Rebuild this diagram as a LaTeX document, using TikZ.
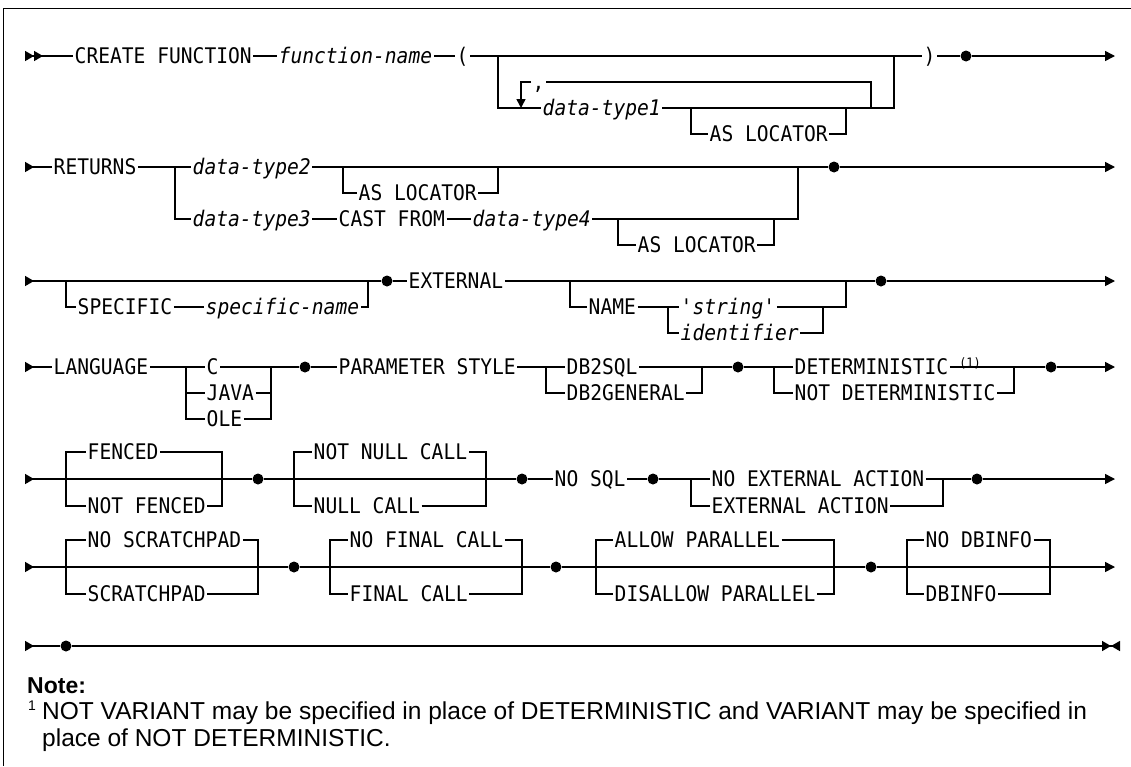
\documentclass[tikz,border=0pt]{standalone}
\usepackage{fontspec}
\setmainfont{Liberation Sans}
\setmonofont[FakeStretch=0.912]{DejaVu Sans Mono}
\usetikzlibrary{arrows.meta}
\tikzset{
    rail/.style={line width=1.5pt},
    railin/.style={rail, arrows={Triangle[reversed,length=9pt,width=10pt]-}},
    railout/.style={rail, arrows={-Triangle[length=10pt,width=10pt]}},
    kw/.style={anchor=west, font=\ttfamily\fontsize{21.5}{24}\selectfont, inner xsep=1.5pt, inner ysep=0pt, text height=15.7pt, text depth=0pt},
    var/.style={kw, font=\ttfamily\itshape\fontsize{21.5}{24}\selectfont},
    dot/.style={circle, fill, inner sep=0pt, minimum size=11pt}
}

\begin{document}
\begin{tikzpicture}[x=1pt, y=-1pt]
    \useasboundingbox (0,0) rectangle (1131,766);
    % frame
    \draw[line width=1pt] (1131,8) -- (3,8) -- (3,766);

    % CREATE FUNCTION
    \coordinate (r1s) at (25,56);
    \node (create) [kw] at (73,56) {CREATE FUNCTION};
    \node (fname) [var] at (277,56) {function-name};
    \node (lpar) [kw] at (455,56) {(};
    \coordinate (r1a) at (498,56);
    \coordinate (r1b) at (894,56);
    \node (rpar) [kw] at (922,56) {)};
    \node (r1d) [dot] at (966,56) {};
    \coordinate (r1e) at (1115,56);
    \coordinate (lp1) at (521,82);
    \coordinate (lp2) at (871,82);
    \coordinate (lp0) at (521,108);
    \node (comma) [kw] at (531,82) {,};
    \node (dt1) [var] at (541,108) {data-type1};
    \coordinate (r1c) at (691,108);
    \node (loc1) [kw] at (708,134) {AS LOCATOR};
    \coordinate (r1f) at (846,108);
    \draw[rail, arrows={Triangle[reversed,length=9pt,width=10pt] Triangle[reversed,length=9pt,width=10pt]-}] (r1s) -- (create);
    \draw[railout] (create) -- (fname) -- (lpar) -- (rpar) -- (r1d) -- (r1e);
    \draw[rail] (r1a) |- (dt1) -| (r1b);
    \draw[rail] (r1c) |- (loc1) -| (r1f);
    \draw[rail] (lp2 |- dt1) -- (lp2) -- (comma);
    \draw[rail, -{Triangle[length=9pt,width=9pt]}] (comma) -- (lp1) -- (lp0);

    % RETURNS
    \coordinate (r2s) at (25,167);
    \node (returns) [kw] at (52,167) {RETURNS};
    \coordinate (r2a) at (175,167);
    \node (dt2) [var] at (191,167) {data-type2};
    \coordinate (r2b) at (343,167);
    \node (loc2) [kw] at (357,193) {AS LOCATOR};
    \coordinate (r2c) at (498,167);
    \coordinate (r2j) at (798,167);
    \node (r2d) [dot] at (834,167) {};
    \coordinate (r2e) at (1115,167);
    \node (dt3) [var] at (191,219) {data-type3};
    \node (cast) [kw] at (337,219) {CAST FROM};
    \node (dt4) [var] at (471,219) {data-type4};
    \coordinate (r2f) at (618,219);
    \node (loc3) [kw] at (636,245) {AS LOCATOR};
    \coordinate (r2g) at (774,219);
    \draw[railin] (r2s) -- (returns);
    \draw[railout] (returns) -- (dt2) -- (r2d) -- (r2e);
    \draw[rail] (r2b) |- (loc2) -| (r2c);
    \draw[rail] (r2a) |- (dt3) -- (cast) -- (dt4) -| (r2j);
    \draw[rail] (r2f) |- (loc3) -| (r2g);

    % SPECIFIC / EXTERNAL
    \coordinate (r3s) at (25,281);
    \coordinate (r3a) at (66,281);
    \node (spec) [kw] at (76,307) {SPECIFIC};
    \node (specn) [var] at (204,307) {specific-name};
    \coordinate (r3b) at (368,281);
    \node (r3d1) [dot] at (387,281) {};
    \node (ext) [kw] at (407,281) {EXTERNAL};
    \coordinate (r3c) at (570,281);
    \node (name) [kw] at (587,307) {NAME};
    \coordinate (r3f) at (668,307);
    \node (str) [var] at (679,307) {'string'};
    \node (ident) [var] at (679,333) {identifier};
    \coordinate (r3g) at (823,307);
    \coordinate (r3h) at (846,281);
    \node (r3d2) [dot] at (881,281) {};
    \coordinate (r3e) at (1115,281);
    \draw[railin] (r3s) -- (r3d1);
    \draw[railout] (r3d1) -- (ext) -- (r3d2) -- (r3e);
    \draw[rail] (r3a) |- (spec) -- (specn) -| (r3b);
    \draw[rail] (r3c) |- (name) -- (str) -| (r3h);
    \draw[rail] (r3f) |- (ident) -| (r3g);

    % LANGUAGE / PARAMETER STYLE / DETERMINISTIC
    \coordinate (r4s) at (25,367);
    \node (lang) [kw] at (52,367) {LANGUAGE};
    \coordinate (r4a) at (186,367);
    \node (langc) [kw] at (205,367) {C};
    \node (java) [kw] at (205,393) {JAVA};
    \node (ole) [kw] at (205,419) {OLE};
    \coordinate (r4b) at (271,367);
    \node (r4d1) [dot] at (305,367) {};
    \node (pstyle) [kw] at (337,367) {PARAMETER STYLE};
    \coordinate (r4c) at (546,367);
    \node (db2sql) [kw] at (565,367) {DB2SQL};
    \node (db2gen) [kw] at (565,393) {DB2GENERAL};
    \coordinate (r4f) at (702,367);
    \node (r4d2) [dot] at (738,367) {};
    \coordinate (r4g) at (774,367);
    \node (det) [kw] at (793,367) {DETERMINISTIC};
    \node (fn1) [anchor=north, inner sep=0pt, font=\ttfamily\fontsize{13}{13}\selectfont] at (970,357) {(1)};
    \node (ndet) [kw] at (793,393) {NOT DETERMINISTIC};
    \coordinate (r4h) at (1014,367);
    \node (r4d3) [dot] at (1051,367) {};
    \coordinate (r4e) at (1115,367);
    \draw[railin] (r4s) -- (lang);
    \draw[railout] (lang) -- (langc) -- (r4d1) -- (pstyle) -- (db2sql) -- (r4d2) -- (det) -- (r4d3) -- (r4e);
    \draw[rail] (r4a) |- (ole) -| (r4b);
    \draw[rail] (r4a |- java) -- (java) -| (r4b);
    \draw[rail] (r4c) |- (db2gen) -| (r4f);
    \draw[rail] (r4g) |- (ndet) -| (r4h);

    % FENCED / NULL CALL / NO SQL / EXTERNAL ACTION
    \coordinate (r5s) at (25,479);
    \coordinate (r5a) at (66,479);
    \node (fenced) [kw] at (86,452) {FENCED};
    \node (nfenced) [kw] at (86,506) {NOT FENCED};
    \coordinate (r5b) at (222,479);
    \node (r5d1) [dot] at (258,479) {};
    \coordinate (r5c) at (294,479);
    \node (nnull) [kw] at (312,452) {NOT NULL CALL};
    \node (null) [kw] at (312,506) {NULL CALL};
    \coordinate (r5f) at (486,479);
    \node (r5d2) [dot] at (522,479) {};
    \node (nosql) [kw] at (553,479) {NO SQL};
    \node (r5d3) [dot] at (653,479) {};
    \coordinate (r5g) at (691,479);
    \node (noext) [kw] at (710,479) {NO EXTERNAL ACTION};
    \node (extact) [kw] at (710,506) {EXTERNAL ACTION};
    \coordinate (r5h) at (943,479);
    \node (r5d4) [dot] at (977,479) {};
    \coordinate (r5e) at (1115,479);
    \draw[railin] (r5s) -- (r5d1);
    \draw[railout] (r5d1) -- (r5d2) -- (nosql) -- (r5d3) -- (noext) -- (r5d4) -- (r5e);
    \draw[rail] (r5a) |- (fenced) -| (r5b);
    \draw[rail] (r5a) |- (nfenced) -| (r5b);
    \draw[rail] (r5c) |- (nnull) -| (r5f);
    \draw[rail] (r5c) |- (null) -| (r5f);
    \draw[rail] (r5g) |- (extact) -| (r5h);

    % SCRATCHPAD / FINAL CALL / PARALLEL / DBINFO
    \coordinate (r6s) at (25,567);
    \coordinate (r6a) at (66,567);
    \node (nscr) [kw] at (86,540) {NO SCRATCHPAD};
    \node (scr) [kw] at (86,594) {SCRATCHPAD};
    \coordinate (r6b) at (258,567);
    \node (r6d1) [dot] at (294,567) {};
    \coordinate (r6c) at (330,567);
    \node (nfinal) [kw] at (348,540) {NO FINAL CALL};
    \node (final) [kw] at (348,594) {FINAL CALL};
    \coordinate (r6f) at (522,567);
    \node (r6d2) [dot] at (556,567) {};
    \coordinate (r6g) at (596,567);
    \node (allow) [kw] at (613,540) {ALLOW PARALLEL};
    \node (disallow) [kw] at (613,594) {DISALLOW PARALLEL};
    \coordinate (r6h) at (834,567);
    \node (r6d3) [dot] at (871,567) {};
    \coordinate (r6i) at (907,567);
    \node (nodbi) [kw] at (924,540) {NO DBINFO};
    \node (dbi) [kw] at (924,594) {DBINFO};
    \coordinate (r6j) at (1050,567);
    \coordinate (r6e) at (1115,567);
    \draw[railin] (r6s) -- (r6d1);
    \draw[railout] (r6d1) -- (r6d2) -- (r6d3) -- (r6e);
    \draw[rail] (r6a) |- (nscr) -| (r6b);
    \draw[rail] (r6a) |- (scr) -| (r6b);
    \draw[rail] (r6c) |- (nfinal) -| (r6f);
    \draw[rail] (r6c) |- (final) -| (r6f);
    \draw[rail] (r6g) |- (allow) -| (r6h);
    \draw[rail] (r6g) |- (disallow) -| (r6h);
    \draw[rail] (r6i) |- (nodbi) -| (r6j);
    \draw[rail] (r6i) |- (dbi) -| (r6j);

    % end of statement
    \coordinate (r7s) at (25,646);
    \node (r7d) [dot] at (66,646) {};
    \coordinate (r7e) at (1120,646);
    \draw[railin] (r7s) -- (r7d);
    \draw[rail, arrows={-Triangle[length=9pt,width=10pt] Triangle[reversed,length=9pt,width=10pt]}] (r7d) -- (r7e);

    % note
    \node (note) [anchor=west, inner sep=0pt, font=\bfseries\fontsize{23}{26}\selectfont] at (27,686) {Note:};
    \node (fnmark) [anchor=north west, inner sep=0pt, font=\fontsize{14}{14}\selectfont] at (28,701) {1};
    \node (fntext) [anchor=north west, inner sep=0pt, align=left, font=\fontsize{24.5}{27}\selectfont] at (42,702) {NOT VARIANT may be specified in place of DETERMINISTIC and VARIANT may be specified in\\place of NOT DETERMINISTIC.};
\end{tikzpicture}
\end{document}
